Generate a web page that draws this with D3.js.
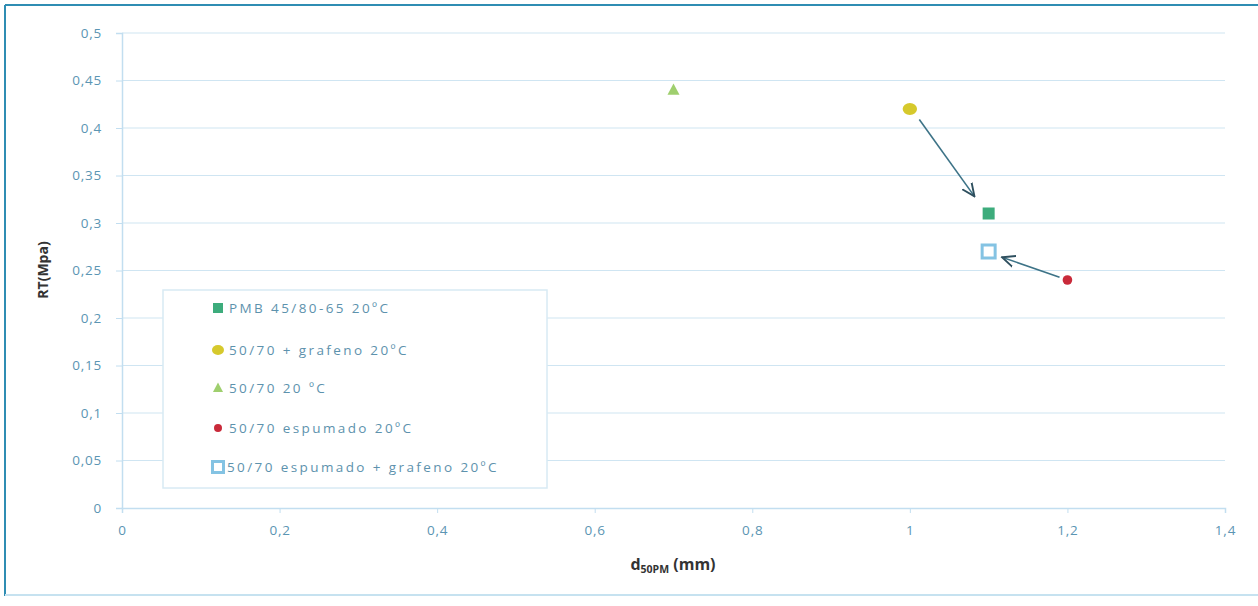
<!DOCTYPE html>
<html>
<head>
<meta charset="utf-8">
<script src="https://cdn.jsdelivr.net/npm/d3@7"></script>
<style>
  body { margin: 0; background: #fff; }
  svg { display: block; font-family: "Open Sans", sans-serif; }
</style>
</head>
<body>
<svg id="chart" width="1258" height="606"></svg>
<script>
// series data
var seriesNames = ["PMB 45/80-65 20ºC", "50/70 + grafeno 20ºC", "50/70 20 ºC", "50/70 espumado 20ºC", "50/70 espumado + grafeno 20ºC"];
var seriesX = [1.1, 1.0, 0.7, 1.2, 1.1];
var seriesY = [0.31, 0.42, 0.44, 0.24, 0.27];
var seriesShape = ["square", "circle", "triangle", "dot", "open"];
var seriesColor = ["#3dac7c", "#d6c92c", "#9fcf6e", "#c92a3a", "#84c3e3"];

var xTicks = [0, 0.2, 0.4, 0.6, 0.8, 1, 1.2, 1.4];
var yTicks = [0, 0.05, 0.1, 0.15, 0.2, 0.25, 0.3, 0.35, 0.4, 0.45, 0.5];

// arrows, in data units [x1, y1, x2, y2]
var arrows = [
  [1.012, 0.409, 1.082, 0.328],
  [1.190, 0.243, 1.117, 0.264]
];

var svg = d3.select("#chart");
var plotLeft = 122, plotRight = 1225, plotTop = 33, plotBottom = 508;

var x = d3.scaleLinear().domain([0, 1.4]).range([plotLeft, plotRight]);
var y = d3.scaleLinear().domain([0, 0.5]).range([plotBottom, plotTop]);

var comma = function(d) { return String(d).replace(".", ","); };

// frame
svg.append("line").attr("x1", 5).attr("y1", 5).attr("x2", 1258).attr("y2", 5)
  .attr("stroke", "#2f8db3").attr("stroke-width", 2);
svg.append("line").attr("x1", 5).attr("y1", 5).attr("x2", 5).attr("y2", 596)
  .attr("stroke", "#2f8db3").attr("stroke-width", 2);
svg.append("line").attr("x1", 5).attr("y1", 595).attr("x2", 1258).attr("y2", 595)
  .attr("stroke", "#c6e2f0").attr("stroke-width", 2);

// horizontal gridlines
svg.append("g").selectAll("line").data(yTicks.slice(1)).enter().append("line")
  .attr("x1", plotLeft).attr("x2", plotRight)
  .attr("y1", function(d) { return y(d); }).attr("y2", function(d) { return y(d); })
  .attr("stroke", "#cfe5f2").attr("stroke-width", 1.2);

// y axis
var yAxis = svg.append("g").attr("transform", "translate(" + plotLeft + ",0)")
  .call(d3.axisLeft(y).tickValues(yTicks).tickFormat(comma).tickSize(6).tickPadding(14));
// x axis
var xAxis = svg.append("g").attr("transform", "translate(0," + plotBottom + ")")
  .call(d3.axisBottom(x).tickValues(xTicks).tickFormat(comma).tickSize(5).tickPadding(12));

[xAxis, yAxis].forEach(function(a) {
  a.select(".domain").attr("stroke", "#c2def0").attr("stroke-width", 1.5);
  a.selectAll(".tick line").attr("stroke", "#c2def0");
  a.selectAll(".tick text").attr("fill", "#5b95b3").attr("font-size", 13.5)
    .attr("letter-spacing", 0.8).attr("font-family", "Open Sans, sans-serif");
});

// axis titles
svg.append("text").attr("transform", "translate(48,270) rotate(-90)")
  .attr("text-anchor", "middle").attr("font-size", 14).attr("font-weight", "bold")
  .attr("fill", "#333").text("RT(Mpa)");
var xt = svg.append("text").attr("x", 673).attr("y", 570).attr("text-anchor", "middle")
  .attr("font-size", 16).attr("font-weight", "bold").attr("fill", "#333");
xt.append("tspan").text("d");
xt.append("tspan").attr("font-size", 10.5).attr("dy", 3).text("50PM");
xt.append("tspan").attr("dy", -3).text(" (mm)");

// marker drawing
function drawMarker(g, shape, color, cx, cy, s) {
  if (shape === "square") {
    g.append("rect").attr("x", cx - s).attr("y", cy - s).attr("width", 2 * s).attr("height", 2 * s).attr("fill", color);
  } else if (shape === "circle") {
    g.append("ellipse").attr("cx", cx).attr("cy", cy).attr("rx", s * 1.2).attr("ry", s).attr("fill", color);
  } else if (shape === "triangle") {
    g.append("path").attr("d", "M" + cx + "," + (cy - s * 1.1) + "L" + (cx + s) + "," + (cy + s * 0.8) + "L" + (cx - s) + "," + (cy + s * 0.8) + "Z").attr("fill", color);
  } else if (shape === "dot") {
    g.append("circle").attr("cx", cx).attr("cy", cy).attr("r", s * 0.8).attr("fill", color);
  } else if (shape === "open") {
    g.append("rect").attr("x", cx - s + 1.5).attr("y", cy - s + 1.5).attr("width", 2 * s - 3).attr("height", 2 * s - 3)
      .attr("fill", "#fff").attr("stroke", color).attr("stroke-width", 3);
  }
}

// legend
var lg = svg.append("g");
lg.append("rect").attr("x", 163).attr("y", 290).attr("width", 384).attr("height", 198)
  .attr("fill", "#fff").attr("stroke", "#d8eaf4").attr("stroke-width", 1.5);
var legendY = [308, 350, 388, 428, 467];
seriesNames.forEach(function(n, i) {
  var sz = seriesShape[i] === "open" ? 7 : 5;
  drawMarker(lg, seriesShape[i], seriesColor[i], 218, legendY[i], sz);
  lg.append("text").attr("x", seriesShape[i] === "open" ? 227 : 229).attr("y", legendY[i] + 5)
    .attr("font-size", 13.5).attr("letter-spacing", 2.4).attr("fill", "#5d92ad").text(n);
});

// arrows
svg.append("defs").append("marker").attr("id", "head").attr("viewBox", "0 0 10 10")
  .attr("refX", 9).attr("refY", 5).attr("markerWidth", 9).attr("markerHeight", 9)
  .attr("orient", "auto-start-reverse")
  .append("path").attr("d", "M0,1L9,5L0,9").attr("fill", "none").attr("stroke", "#2e4f5e").attr("stroke-width", 1.3);
svg.append("g").selectAll("line").data(arrows).enter().append("line")
  .attr("x1", function(d) { return x(d[0]); }).attr("y1", function(d) { return y(d[1]); })
  .attr("x2", function(d) { return x(d[2]); }).attr("y2", function(d) { return y(d[3]); })
  .attr("stroke", "#3d7387").attr("stroke-width", 1.6).attr("marker-end", "url(#head)");

// points
var pts = svg.append("g");
seriesX.forEach(function(v, i) {
  var sz = seriesShape[i] === "open" ? 8 : 6;
  drawMarker(pts, seriesShape[i], seriesColor[i], x(v), y(seriesY[i]), sz);
});
</script>
</body>
</html>
